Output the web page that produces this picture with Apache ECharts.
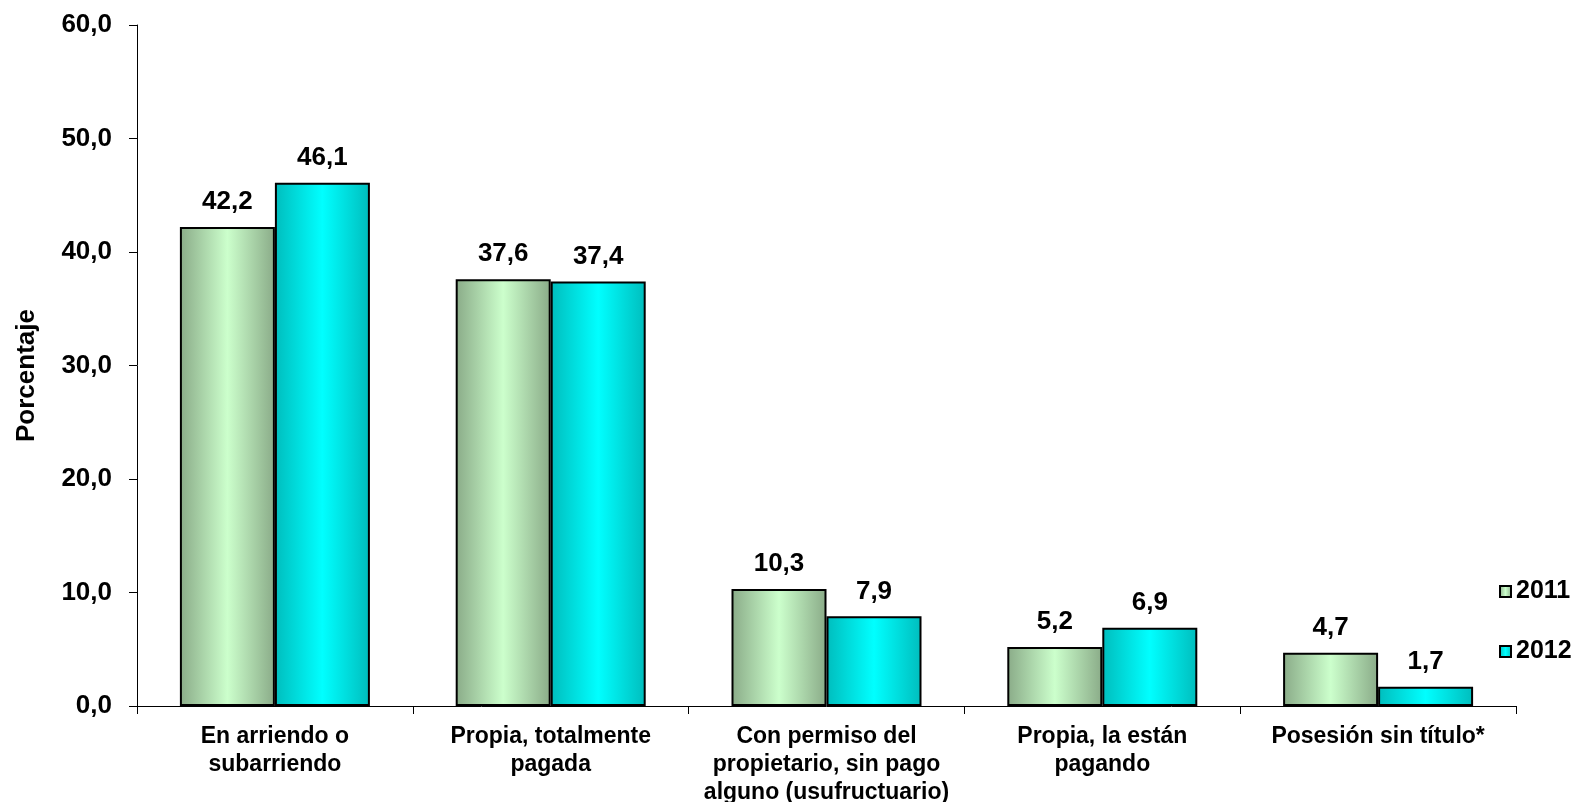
<!DOCTYPE html>
<html>
<head>
<meta charset="utf-8">
<script src="https://cdn.jsdelivr.net/npm/echarts@6/dist/echarts.min.js"></script>
<style>
  html, body { margin: 0; padding: 0; background: #fff; }
  #main { width: 1591px; height: 802px; }
</style>
</head>
<body>
<div id="main"></div>
<script>
var categories = [
    'En arriendo o\nsubarriendo',
    'Propia, totalmente\npagada',
    'Con permiso del\npropietario, sin pago\nalguno (usufructuario)',
    'Propia, la están\npagando',
    'Posesión sin título*'
];
var values2011 = [42.2, 37.6, 10.3, 5.2, 4.7];
var values2012 = [46.1, 37.4, 7.9, 6.9, 1.7];
var yTicks = [0, 10, 20, 30, 40, 50, 60];

function comma(v) {
    return v.toFixed(1).replace('.', ',');
}

function barFill(edge, center) {
    return new echarts.graphic.LinearGradient(0, 0, 1, 0, [
        { offset: 0, color: edge },
        { offset: 0.5, color: center },
        { offset: 1, color: edge }
    ]);
}

var font = 'Liberation Sans, Arial, sans-serif';
var myChart = echarts.init(document.getElementById('main'));

var labelStyle = {
    show: true,
    position: 'top',
    distance: 12,
    color: '#000',
    fontSize: 26,
    fontWeight: 'bold',
    formatter: function (p) { return comma(p.value); }
};

var option = {
    animation: false,
    textStyle: { fontFamily: font },
    grid: {
        left: 137,
        right: 75,
        top: 25,
        bottom: 96,
        containLabel: false,
        outerBoundsMode: 'none'
    },
    legend: {
        orient: 'vertical',
        left: 1494,
        top: 574,
        itemWidth: 11,
        itemHeight: 11,
        itemGap: 35,
        icon: 'rect',
        textStyle: {
            fontSize: 25,
            fontWeight: 'bold',
            color: '#000',
            padding: [0, 0, 0, 0]
        },
        data: ['2011', '2012']
    },
    xAxis: {
        type: 'category',
        data: categories,
        axisLine: { lineStyle: { color: '#000', width: 1 } },
        axisTick: { show: true, length: 8, lineStyle: { color: '#000' } },
        axisLabel: {
            interval: 0,
            margin: 17,
            color: '#000',
            fontSize: 23,
            fontWeight: 'bold',
            lineHeight: 28
        }
    },
    yAxis: {
        type: 'value',
        min: yTicks[0],
        max: yTicks[yTicks.length - 1],
        interval: 10,
        name: 'Porcentaje',
        nameLocation: 'middle',
        nameGap: 97,
        nameTextStyle: {
            fontSize: 26,
            fontWeight: 'bold',
            color: '#000',
            padding: [0, 20, 0, 0]
        },
        splitLine: { show: false },
        axisLine: { show: true, lineStyle: { color: '#000', width: 1 } },
        axisTick: { show: true, length: 8, lineStyle: { color: '#000' } },
        axisLabel: {
            margin: 25,
            color: '#000',
            fontSize: 26,
            fontWeight: 'bold',
            formatter: function (v) { return comma(v); }
        }
    },
    series: [
        {
            name: '2011',
            type: 'bar',
            data: values2011,
            barWidth: 95,
            barGap: '0%',
            itemStyle: {
                color: barFill('#8aab88', '#ccffcc'),
                borderColor: '#000',
                borderWidth: 2
            },
            label: labelStyle
        },
        {
            name: '2012',
            type: 'bar',
            data: values2012,
            barWidth: 95,
            barGap: '0%',
            itemStyle: {
                color: barFill('#00bdbd', '#00ffff'),
                borderColor: '#000',
                borderWidth: 2
            },
            label: labelStyle
        }
    ]
};

myChart.setOption(option);
</script>
</body>
</html>
